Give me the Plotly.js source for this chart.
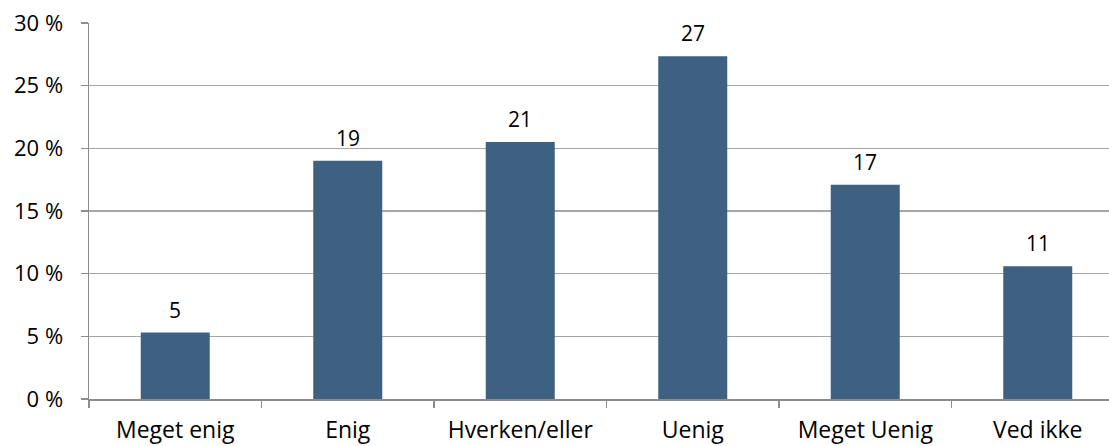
<!DOCTYPE html>
<html>
<head>
<meta charset="utf-8">
<script src="https://cdn.plot.ly/plotly-3.0.1.min.js"></script>
<style>
html,body{margin:0;padding:0;overflow:hidden;background:#fff;}
#chart{width:1126px;height:446px;}
</style>
</head>
<body>
<div id="chart"></div>
<script>
const categories = ["Meget enig", "Enig", "Hverken/eller", "Uenig", "Meget Uenig", "Ved ikke"];
const values = [5.3, 19.0, 20.5, 27.35, 17.1, 10.6];
const labels = ["5", "19", "21", "27", "17", "11"];
const yTickVals = [0, 5, 10, 15, 20, 25, 30];
const yTickText = ["0 %", "5 %", "10 %", "15 %", "20 %", "25 %", "30 %"];

const FONT = "'Open Sans', 'Noto Sans', sans-serif";

const trace = {
  type: "bar",
  x: categories,
  y: values,
  marker: {color: "#3e6182"},
  width: 0.4,
  hoverinfo: "skip"
};

const annotations = categories.map((c, i) => ({
  x: c, y: values[i], text: labels[i],
  xref: "x", yref: "y",
  showarrow: false, yanchor: "bottom", yshift: 7,
  font: {family: FONT, size: 21, color: "#000"}
}));

const layout = {
  width: 1126, height: 446,
  margin: {l: 89, r: 2, t: 23, b: 47, pad: 0},
  paper_bgcolor: "#fff", plot_bgcolor: "#fff",
  showlegend: false,
  font: {family: FONT, size: 21, color: "#000"},
  xaxis: {
    type: "category",
    showline: true, linecolor: "#8c8c8c", linewidth: 1.5,
    ticks: "outside", tickson: "boundaries", ticklen: 7, tickcolor: "#8c8c8c", tickwidth: 1.5,
    showgrid: false, zeroline: false,
    ticklabelstandoff: 10,
    tickfont: {family: FONT, size: 23, color: "#000"},
    fixedrange: true
  },
  yaxis: {
    range: [0, 30],
    tickvals: yTickVals, ticktext: yTickText,
    showline: true, linecolor: "#8c8c8c", linewidth: 1.5,
    ticks: "outside", ticklen: 7, tickcolor: "#8c8c8c", tickwidth: 1.5,
    showgrid: true, gridcolor: "#a6a6a6", gridwidth: 1.5,
    zeroline: false,
    ticklabelstandoff: 13,
    tickfont: {family: FONT, size: 22, color: "#000"},
    fixedrange: true
  },
  annotations: annotations
};

Plotly.newPlot("chart", [trace], layout, {displayModeBar: false, staticPlot: true});
</script>
</body>
</html>
